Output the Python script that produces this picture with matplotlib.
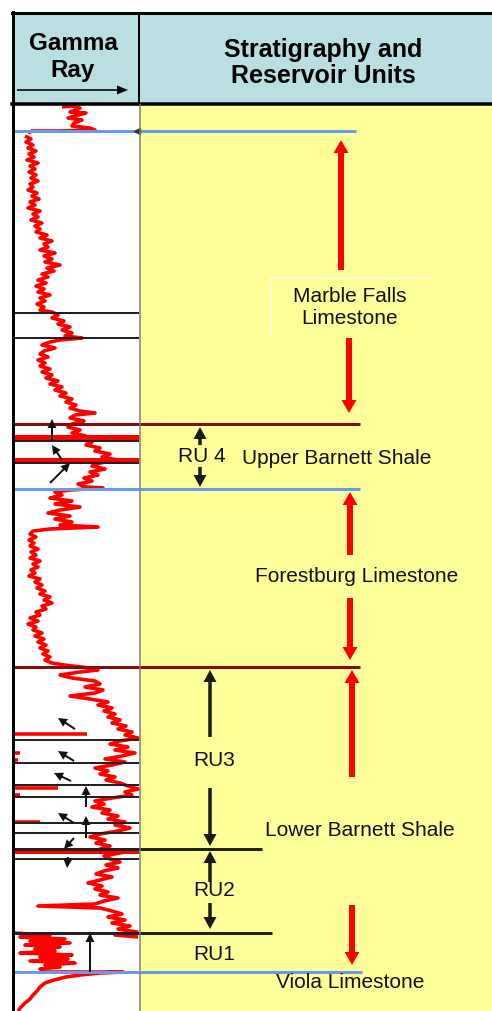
import matplotlib
matplotlib.use("Agg")
import matplotlib.pyplot as plt

# ---------------------------------------------------------------
# Canvas: one axes in pixel units (x to the right, depth downward)
# ---------------------------------------------------------------
W, H = 492, 1011
PT = 0.72                      # points per pixel at 100 dpi

TRACK_L, TRACK_R = 13, 139     # gamma-ray track
HEADER_TOP, HEADER_BOT = 13, 105

# Gamma-ray trace (depth, track position)
gr_top = [(107, 62), (106, 72), (108, 80), (110, 76), (112, 70), (113, 86), (115, 78),
          (118, 68), (120, 82), (123, 74), (126, 72), (128, 90), (130, 95), (131, 60),
          (131, 32), (133, 28)]
gr_main = [(136, 25), (139, 31), (142, 26), (145, 33), (148, 28), (151, 36), (154, 29),
           (157, 34), (160, 27), (163, 38), (166, 30), (169, 35), (172, 29), (175, 36),
           (178, 31), (181, 38), (184, 30), (187, 33), (190, 28), (193, 37), (196, 32),
           (199, 39), (202, 30), (205, 35), (208, 28), (211, 40), (214, 33), (217, 38),
           (220, 31), (223, 42), (226, 35), (229, 40), (232, 36), (235, 47), (238, 40),
           (241, 52), (244, 44), (247, 48), (250, 40), (253, 55), (256, 44), (259, 52),
           (262, 45), (265, 60), (268, 47), (271, 54), (274, 42), (277, 48), (280, 38),
           (283, 46), (286, 36), (289, 44), (292, 38), (295, 50), (298, 40), (301, 45),
           (304, 37), (307, 44), (310, 40), (312, 52), (315, 58), (318, 52), (321, 64),
           (324, 58), (327, 70), (330, 62), (333, 72), (336, 65), (338, 82), (340, 60),
           (342, 50), (345, 42), (348, 55), (351, 44), (354, 40), (357, 48), (360, 38),
           (363, 45), (366, 40), (369, 50), (372, 42), (375, 52), (378, 46), (381, 58),
           (384, 50), (387, 62), (390, 55), (393, 66), (396, 60), (399, 72), (402, 66),
           (405, 76), (408, 70), (411, 80), (413, 95), (415, 75), (418, 70), (421, 84),
           (424, 72), (427, 68), (430, 80), (433, 72), (436, 86), (439, 80), (442, 92),
           (445, 86), (448, 100), (451, 95), (454, 110), (457, 102), (460, 118), (463, 100),
           (466, 92), (469, 105), (472, 90), (475, 98), (478, 84), (481, 92), (484, 78),
           (487, 86), (488, 103), (490, 70), (492, 55), (495, 62), (498, 50), (501, 72),
           (504, 55), (507, 80), (510, 60), (513, 48), (516, 70), (519, 55), (522, 72),
           (525, 60), (527, 98), (529, 50), (531, 33), (534, 30), (537, 36), (540, 29),
           (543, 34), (546, 30), (549, 38), (552, 31), (555, 36), (558, 30), (561, 40),
           (564, 33), (567, 38), (570, 31), (573, 35), (576, 29), (579, 40), (582, 35),
           (585, 42), (588, 37), (591, 45), (594, 40), (597, 50), (600, 44), (603, 52),
           (606, 42), (609, 46), (612, 36), (615, 40), (618, 30), (621, 38), (624, 28),
           (627, 36), (630, 33), (633, 42), (636, 35), (639, 44), (642, 38), (645, 46),
           (648, 40), (651, 48), (654, 43), (657, 50), (660, 45), (663, 52), (665, 64),
           (668, 90), (670, 98), (672, 80), (675, 60), (678, 72), (681, 95), (684, 100),
           (687, 85), (690, 103), (693, 95), (696, 70), (699, 90), (702, 108), (705, 98),
           (708, 112), (711, 104), (714, 115), (717, 108), (720, 120), (723, 112),
           (726, 126), (729, 118), (732, 132), (735, 125), (738, 138), (741, 120),
           (744, 110), (747, 128), (750, 115), (753, 135), (756, 122), (759, 105),
           (762, 125), (765, 112), (768, 95), (771, 108), (774, 100), (777, 115),
           (780, 106), (783, 120), (786, 128), (789, 138), (792, 125), (795, 132),
           (798, 112), (801, 95), (804, 104), (807, 92), (810, 110), (813, 102),
           (816, 118), (819, 108), (822, 125), (825, 115), (828, 130), (831, 118),
           (834, 100), (837, 90), (840, 105), (843, 96), (846, 110), (849, 100),
           (851, 130), (856, 104), (859, 110), (862, 120), (865, 106), (868, 118),
           (871, 104), (874, 96), (877, 112), (880, 100), (883, 88), (886, 102),
           (889, 95), (892, 108), (895, 100), (898, 118), (901, 104), (904, 95),
           (906, 38), (908, 100), (911, 112), (914, 122), (917, 108), (920, 125),
           (923, 112), (926, 130), (929, 118), (932, 137), (935, 115), (937, 138)]
gr_wrapped = [(933, 13), (935, 50), (937, 20), (939, 65), (941, 30), (943, 70), (945, 25),
              (947, 60), (949, 35), (951, 55), (953, 20), (955, 72), (957, 40), (959, 68),
              (961, 30), (963, 75), (965, 45), (967, 60), (969, 40), (971, 45)]
gr_base = [(972, 45), (972, 123), (973, 100), (975, 80), (977, 66), (980, 54), (983, 45),
           (987, 40), (991, 37), (995, 33), (999, 30), (1003, 25), (1007, 21), (1011, 18)]
# off-scale kicks that wrap back from the left edge of the track: (depth, reach)
gr_kicks = [(734, 87), (753, 20), (760, 18), (788, 58), (795, 20), (822, 40)]

# Formation tops: (depth, right end, colour)
formation_tops = [(131, 356, "#6a9be8"), (424, 360, "#8b0a0a"), (489, 360, "#6a9be8"),
                  (667, 360, "#8b0a0a"), (972, 362, "#6a9be8")]
# Reservoir-unit boundaries inside the Lower Barnett: (depth, right end)
ru_bounds = [(849, 262), (933, 272)]
# Log picks drawn only across the track
track_picks = [313, 338, 441, 463, 740, 763, 785, 797, 823, 833, 859]
track_red_bands = [437, 460, 851]

# Labels: (text, x, depth)
unit_labels = [("Marble Falls", 350, 297), ("Limestone", 350, 319),
               ("RU 4", 202, 457), ("Upper Barnett Shale", 337, 458),
               ("Forestburg Limestone", 357, 577),
               ("RU3", 214, 761), ("Lower Barnett Shale", 360, 830),
               ("RU2", 214, 891), ("RU1", 214, 955),
               ("Viola Limestone", 350, 982)]

# Formation extent arrows (x, tail depth, tip depth)
red_arrows = [(341, 270, 140), (349, 338, 413), (350, 555, 492),
              (350, 598, 660), (352, 777, 670), (352, 905, 965)]
ru_arrows = [(200, 445, 427), (200, 467, 487), (210, 737, 670),
             (210, 788, 846), (210, 882, 851), (210, 903, 929)]
# Trend arrows on the log: (tail x, tail depth, tip x, tip depth)
trend_arrows = [(52, 441, 52, 419), (62, 460, 52, 445), (50, 483, 70, 463),
                (75, 729, 58, 718), (74, 761, 58, 751), (71, 781, 54, 773),
                (86, 807, 86, 786), (74, 823, 58, 813), (86, 838, 86, 816),
                (74, 838, 64, 849), (68, 857, 67, 868), (90, 972, 90, 933)]

# ---------------------------------------------------------------
fig = plt.figure(figsize=(W / 100, H / 100), dpi=100)
ax = fig.add_axes([0, 0, 1, 1])
ax.set_xlim(0, W)
ax.set_ylim(H, 0)
ax.axis("off")

font = "Liberation Sans"

# panels
ax.add_patch(plt.Rectangle((TRACK_L, HEADER_TOP), W - TRACK_L, HEADER_BOT - HEADER_TOP,
                           facecolor="#b9dfe3", edgecolor="none", zorder=0))
ax.add_patch(plt.Rectangle((TRACK_R + 1, HEADER_BOT), W - TRACK_R, H - HEADER_BOT,
                           facecolor="#ffff99", edgecolor="none", zorder=0))
ax.add_patch(plt.Rectangle((TRACK_L, HEADER_BOT), TRACK_R - TRACK_L, H - HEADER_BOT,
                           facecolor="white", edgecolor="none", zorder=0))

# header text
ax.text(73, 44, "Gamma", ha="center", va="center", fontsize=17.5, fontweight="bold",
        family=font)
ax.text(73, 70, "Ray", ha="center", va="center", fontsize=17.5, fontweight="bold",
        family=font)
ax.arrow(17, 90, 111, 0, width=1.6, head_width=9, head_length=11,
         length_includes_head=True, color="black", lw=0, zorder=3)
ax.text(323, 50, "Stratigraphy and", ha="center", va="center", fontsize=18,
        fontweight="bold", family=font)
ax.text(323, 76, "Reservoir Units", ha="center", va="center", fontsize=18,
        fontweight="bold", family=font)

# gamma-ray curve
red_kw = dict(color="#ff0000", lw=3.6 * PT, solid_joinstyle="round",
              solid_capstyle="butt", zorder=2)
for seg in (gr_top, gr_main, gr_wrapped, gr_base):
    d, v = zip(*seg)
    ax.plot(v, d, **red_kw)
for d, reach in gr_kicks:
    ax.plot([TRACK_L, reach], [d, d], **red_kw)
for d in track_red_bands:
    ax.plot([TRACK_L, TRACK_R], [d, d], color="#ff0000", lw=5 * PT,
            solid_capstyle="butt", zorder=2)

# picks and tops
line_kw = dict(solid_capstyle="butt", zorder=3)
for d in track_picks:
    ax.plot([TRACK_L, TRACK_R], [d, d], color="#222222", lw=2 * PT, **line_kw)
for d, xr in ru_bounds:
    ax.plot([TRACK_L, xr], [d, d], color="#222222", lw=3 * PT, **line_kw)
for d, xr, c in formation_tops:
    ax.plot([TRACK_L, xr], [d, d], color=c, lw=3 * PT, **line_kw)
ax.plot([TRACK_R - 2], [131], marker="<", ms=4, color="#333333", zorder=4)

# faint label frame
ax.plot([430, 270, 270], [277, 277, 337], color="white", lw=1 * PT, zorder=1)

# arrows
for x, t, tip in red_arrows:
    ax.arrow(x, t, 0, tip - t, width=6, head_width=15, head_length=13,
             length_includes_head=True, color="#ff0000", lw=0, zorder=4)
for x, t, tip in ru_arrows:
    ax.arrow(x, t, 0, tip - t, width=3.5, head_width=13, head_length=12,
             length_includes_head=True, color="#1a1a1a", lw=0, zorder=4)
for x0, y0, x1, y1 in trend_arrows:
    ax.arrow(x0, y0, x1 - x0, y1 - y0, width=2, head_width=9, head_length=9,
             length_includes_head=True, color="#111111", lw=0, zorder=5)

# unit labels
for txt, x, d in unit_labels:
    ax.text(x, d, txt, ha="center", va="center", fontsize=15, family=font,
            color="#111111", zorder=6)

# frame
ax.plot([TRACK_L - 1, W], [HEADER_TOP, HEADER_TOP], color="black", lw=3 * PT, zorder=7)
ax.plot([TRACK_L - 1, W], [HEADER_BOT - 1, HEADER_BOT - 1], color="black", lw=3.5 * PT,
        zorder=7)
ax.plot([12.5, 12.5], [HEADER_TOP - 1, H], color="black", lw=3 * PT, zorder=7)
ax.plot([TRACK_R, TRACK_R], [HEADER_TOP, HEADER_BOT], color="black", lw=2 * PT, zorder=7)
ax.plot([TRACK_R + 1, TRACK_R + 1], [HEADER_BOT, H], color="#80806a", lw=1.5 * PT,
        zorder=7)

fig.savefig("out.png", dpi=100, facecolor="white")
